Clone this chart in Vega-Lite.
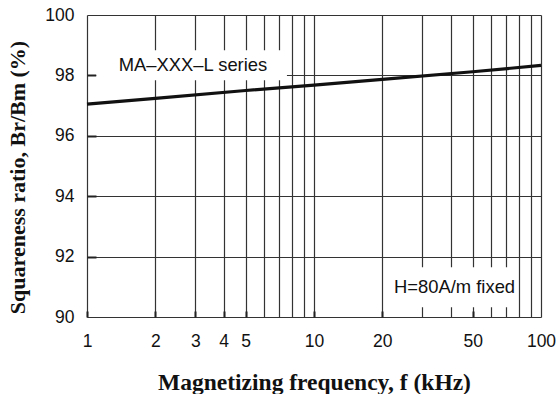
{
  "$schema": "https://vega.github.io/schema/vega-lite/v6.json",
  "autosize": "none",
  "width": 454,
  "height": 302,
  "padding": {"left": 87, "top": 15, "right": 17, "bottom": 77},
  "background": "white",
  "config": {
    "view": {"stroke": null},
    "axis": {
      "labelFont": "Liberation Sans",
      "labelFontSize": 17.5,
      "labelColor": "#111",
      "titleFont": "Liberation Serif",
      "titleFontWeight": "bold",
      "titleColor": "#111",
      "gridColor": "#333",
      "gridWidth": 1.2,
      "gridOpacity": 1,
      "domain": false
    }
  },
  "datasets": {
    "curve": [
      {"f": 1, "ratio": 97.05},
      {"f": 2, "ratio": 97.24},
      {"f": 5, "ratio": 97.5},
      {"f": 10, "ratio": 97.68},
      {"f": 20, "ratio": 97.87},
      {"f": 50, "ratio": 98.12},
      {"f": 100, "ratio": 98.33}
    ],
    "notes": [
      {"label": "MA\u2013XXX\u2013L series", "fx": 2.93, "ry": 98.33, "x1": 1.1, "x2": 7.6, "y1": 97.84, "y2": 98.83},
      {"label": "H=80A/m fixed", "fx": 41.6, "ry": 91.0, "x1": 21.2, "x2": 78.4, "y1": 90.32, "y2": 91.65}
    ]
  },
  "layer": [
    {
      "data": {"name": "curve"},
      "mark": {"type": "line", "color": "#111", "strokeWidth": 3.2},
      "encoding": {
        "x": {
          "field": "f", "type": "quantitative",
          "scale": {"type": "log", "domain": [1, 100], "nice": false},
          "axis": {
            "title": "Magnetizing frequency, f (kHz)",
            "titleFontSize": 23.5,
            "values": [1, 2, 3, 4, 5, 6, 7, 8, 9, 10, 20, 30, 40, 50, 60, 70, 80, 90, 100],
            "format": "d",
            "labelExpr": "(datum.value <= 5 || datum.value == 10 || datum.value == 20 || datum.value == 50 || datum.value == 100) ? datum.label : ''",
            "grid": true,
            "ticks": true,
            "tickSize": -6,
            "tickWidth": 2,
            "tickColor": "#222",
            "tickOpacity": {"condition": {"test": "datum.value <= 5 || datum.value == 10 || datum.value == 20 || datum.value == 50", "value": 1}, "value": 0},
            "labelPadding": 21,
            "labelFlush": false,
            "labelOverlap": false,
            "titleY": 72,
            "titleBaseline": "alphabetic"
          }
        },
        "y": {
          "field": "ratio", "type": "quantitative",
          "scale": {"domain": [90, 100], "nice": false, "zero": false},
          "axis": {
            "title": "Squareness ratio, Br/Bm (%)",
            "titleFontSize": 22,
            "values": [90, 91, 92, 93, 94, 95, 96, 97, 98, 99, 100],
            "labelExpr": "datum.value % 2 == 0 ? datum.label : ''",
            "grid": true,
            "ticks": true,
            "tickSize": -9,
            "tickWidth": 2,
            "tickColor": "#222",
            "tickOpacity": {"condition": {"test": "datum.value % 2 == 0 && datum.value > 90 && datum.value < 100", "value": 1}, "value": 0},
            "labelPadding": 22,
            "labelFlush": false,
            "labelOverlap": false,
            "titleX": -63,
            "titleY": 162,
            "titleBaseline": "alphabetic"
          }
        }
      }
    },
    {
      "data": {"name": "notes"},
      "mark": {"type": "rect", "fill": "white", "stroke": null},
      "encoding": {
        "x": {"field": "x1", "type": "quantitative"},
        "x2": {"field": "x2"},
        "y": {"field": "y1", "type": "quantitative"},
        "y2": {"field": "y2"}
      }
    },
    {
      "data": {"name": "notes"},
      "mark": {"type": "text", "font": "Liberation Sans", "fontSize": 18.4, "color": "#111", "align": "center", "baseline": "middle"},
      "encoding": {
        "x": {"field": "fx", "type": "quantitative"},
        "y": {"field": "ry", "type": "quantitative"},
        "text": {"field": "label"}
      }
    }
  ]
}
